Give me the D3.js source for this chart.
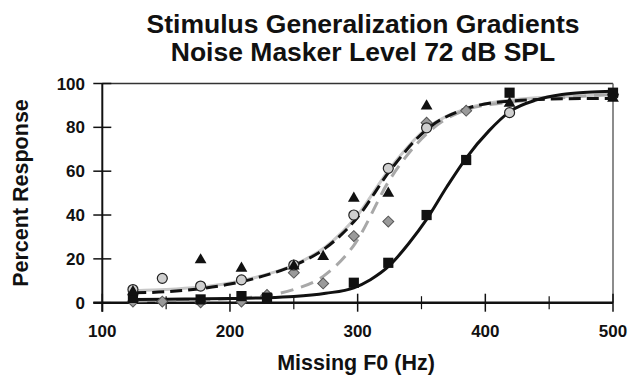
<!DOCTYPE html>
<html>
<head>
  <style>
    body { margin: 0; background: white; }
    svg text { font-family: "Liberation Sans", Arial, sans-serif; font-weight: bold; fill: #111; }
    .tick-label { font-size: 17px; }
    .axis-title { font-size: 21.5px; }
    .title { font-size: 26.5px; }
  </style>
</head>
<body>
  <div id="chart"></div>

  <script src="https://cdnjs.cloudflare.com/ajax/libs/d3/7.8.5/d3.min.js"></script>
  <script>
    // valores: [F0 (Hz), % respuesta]
    const triangles = [[124,5],[177,19.5],[209,15.7],[250,16.7],[273,21],[297,47.6],[324,49.9],[354,89.7],[419,91],[500,93.2]];
    const circles = [[124,6],[147,11.1],[177,7.6],[209,10.4],[250,17.2],[297,40],[324,61.3],[354,79.8],[419,86.7],[500,94.8]];
    const diamonds = [[124,0.5],[147,0.5],[177,0.2],[209,0.5],[229,3.5],[250,13.7],[273,8.8],[297,30.4],[324,37],[354,82.1],[385,87.6],[500,95]];
    const squares = [[124,2.2],[177,1.5],[209,3],[229,2.3],[297,9.1],[324,18.2],[354,40],[385,65.1],[419,95.8],[500,95.8]];

    // curvas ajustadas (puntos leidos sobre cada curva)
    const fitSquares = [[125,1.5],[150,1.6],[175,1.7],[200,1.9],[225,2.2],[250,2.8],[275,4.3],[297,6.8],[310,10.5],[325,17],[340,27],[354,38],[370,53],[385,66],[403,78.5],[420,87.5],[440,92.5],[460,95],[480,96],[500,96.5]];
    const fitTriangles = [[125,4.5],[150,5],[175,6.3],[200,8.5],[225,12],[250,17],[275,25],[300,39],[325,60],[354,79],[385,88.5],[420,92],[460,93],[500,93.2]];
    const fitCircles = [[125,5.5],[150,6],[175,7],[200,9],[225,12.3],[250,17.2],[275,25.5],[300,40],[325,61],[354,79.5],[385,88.5],[420,92.5],[460,94],[500,95]];
    const fitDiamonds = [[125,0.8],[150,1],[175,1.3],[200,1.8],[225,3],[250,6],[273,12],[298,27],[325,56],[354,77],[385,88],[420,91.5],[460,93.5],[500,95]];

    const xTicks = [100, 200, 300, 400, 500];
    const xMinorTicks = [150, 250, 350, 450];
    const yTicks = [0, 20, 40, 60, 80, 100];
    const titleLines = ["Stimulus Generalization Gradients", "Noise Masker Level 72 dB SPL"];

    const width = 631, height = 378;
    const plotLeft = 102.3, plotRight = 613, plotTop = 83.5, plotBottom = 302.7;

    const svg = d3.select("#chart").append("svg")
      .attr("width", width)
      .attr("height", height);

    const x = d3.scaleLinear().domain([100, 500]).range([plotLeft, plotRight]);
    const y = d3.scaleLinear().domain([0, 100]).range([plotBottom, plotTop]);

    // marco superior y derecho
    svg.append("line").attr("x1", plotLeft).attr("x2", plotRight).attr("y1", plotTop).attr("y2", plotTop)
      .attr("stroke", "#333").attr("stroke-width", 1.5);
    svg.append("line").attr("x1", plotRight).attr("x2", plotRight).attr("y1", plotTop).attr("y2", plotBottom)
      .attr("stroke", "#666").attr("stroke-width", 1.5);

    // eje y
    const yAxis = svg.append("g");
    yAxis.append("line").attr("x1", plotLeft).attr("x2", plotLeft).attr("y1", plotTop).attr("y2", plotBottom + 9)
      .attr("stroke", "#111").attr("stroke-width", 2);
    yAxis.selectAll(".yt").data(yTicks).join("line")
      .attr("x1", plotLeft - 9).attr("x2", plotLeft + 9)
      .attr("y1", d => y(d)).attr("y2", d => y(d))
      .attr("stroke", "#111").attr("stroke-width", 1.5);
    yAxis.selectAll("text").data(yTicks).join("text")
      .attr("class", "tick-label")
      .attr("x", 85).attr("y", d => y(d) + 6)
      .attr("text-anchor", "end")
      .text(d => d);

    // eje x
    const xAxis = svg.append("g");
    xAxis.append("line").attr("x1", plotLeft - 9).attr("x2", plotRight).attr("y1", plotBottom).attr("y2", plotBottom)
      .attr("stroke", "#111").attr("stroke-width", 2.5);
    xAxis.selectAll(".xt").data(xTicks).join("line")
      .attr("x1", d => x(d)).attr("x2", d => x(d))
      .attr("y1", plotBottom - 9).attr("y2", plotBottom + 9)
      .attr("stroke", "#111").attr("stroke-width", 1.5);
    xAxis.selectAll(".xm").data(xMinorTicks).join("line")
      .attr("x1", d => x(d)).attr("x2", d => x(d))
      .attr("y1", plotBottom - 6.5).attr("y2", plotBottom + 6.5)
      .attr("stroke", "#111").attr("stroke-width", 1.2);
    xAxis.selectAll("text").data(xTicks).join("text")
      .attr("class", "tick-label")
      .attr("x", d => x(d)).attr("y", 337)
      .attr("text-anchor", "middle")
      .text(d => d);

    // curvas
    const line = d3.line().x(d => x(d[0])).y(d => y(d[1])).curve(d3.curveMonotoneX);
    const curves = [
      { data: fitCircles, color: "#c8c8c8", dash: null },
      { data: fitDiamonds, color: "#a8a8a8", dash: "13,8" },
      { data: fitTriangles, color: "#111", dash: "12,6" },
      { data: fitSquares, color: "#111", dash: null }
    ];
    curves.forEach(c => {
      svg.append("path")
        .attr("d", line(c.data))
        .attr("fill", "none")
        .attr("stroke", c.color)
        .attr("stroke-width", 3)
        .attr("stroke-dasharray", c.dash);
    });

    // marcadores
    const sym = (type, size) => d3.symbol().type(type).size(size)();
    svg.append("g").selectAll("path").data(diamonds).join("path")
      .attr("d", sym(d3.symbolSquare, 60))
      .attr("transform", d => `translate(${x(d[0])},${y(d[1])}) rotate(45)`)
      .attr("fill", "#9a9a9a").attr("stroke", "#555").attr("stroke-width", 1);
    svg.append("g").selectAll("circle").data(circles).join("circle")
      .attr("cx", d => x(d[0])).attr("cy", d => y(d[1])).attr("r", 5)
      .attr("fill", "#cfcfcf").attr("stroke", "#222").attr("stroke-width", 1.2);
    svg.append("g").selectAll("path").data(squares).join("path")
      .attr("d", sym(d3.symbolSquare, 104))
      .attr("transform", d => `translate(${x(d[0])},${y(d[1])})`)
      .attr("fill", "#111");
    svg.append("g").selectAll("path").data(triangles).join("path")
      .attr("d", sym(d3.symbolTriangle, 60))
      .attr("transform", d => `translate(${x(d[0])},${y(d[1])})`)
      .attr("fill", "#111");

    // titulos
    svg.selectAll(".title").data(titleLines).join("text")
      .attr("class", "title")
      .attr("x", 363).attr("y", (d, i) => 33 + i * 28)
      .attr("text-anchor", "middle")
      .text(d => d);

    svg.append("text")
      .attr("class", "axis-title")
      .attr("x", 356).attr("y", 370)
      .attr("text-anchor", "middle")
      .text("Missing F0 (Hz)");

    svg.append("text")
      .attr("class", "axis-title")
      .attr("transform", "translate(28,193) rotate(-90)")
      .attr("text-anchor", "middle")
      .text("Percent Response");
  </script>
</body>
</html>
